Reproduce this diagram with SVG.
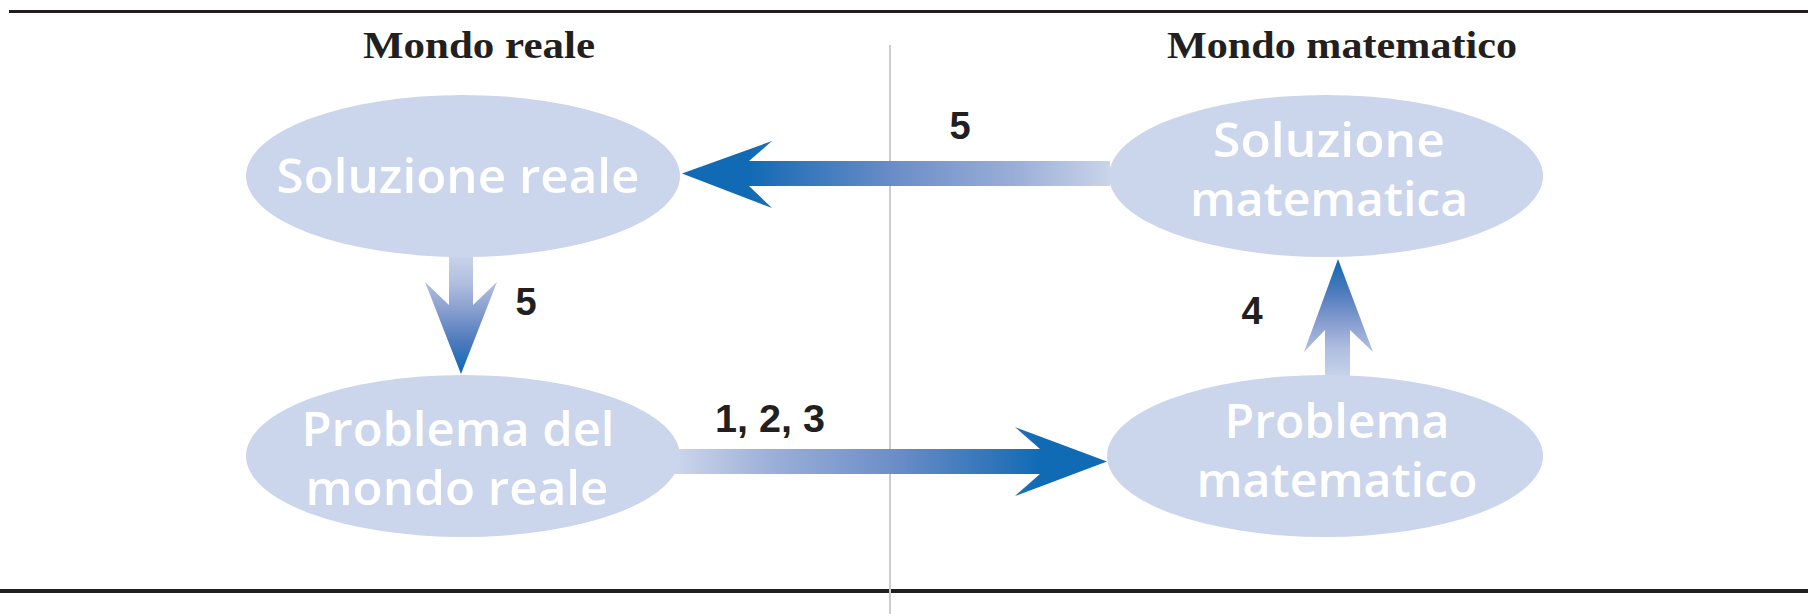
<svg xmlns="http://www.w3.org/2000/svg" width="1808" height="614" viewBox="0 0 1808 614">
  <style>
    .rule { fill: #231f20; }
    .divider { stroke: #cccccc; stroke-width: 2; }
    .heading { font-family: "Liberation Serif", "Times New Roman", serif; font-weight: bold; font-size: 37px; fill: #231f20; text-anchor: middle; }
    .node { fill: #cbd5eb; }
    .node-label { font-family: "Open Sans", "Liberation Sans", sans-serif; font-weight: 600; font-size: 47px; fill: #ffffff; text-anchor: middle; }
    .step { font-family: "Liberation Sans", Arial, sans-serif; font-weight: bold; font-size: 38px; fill: #231f20; text-anchor: middle; }
  </style>
  <defs>
    <linearGradient id="gradLeft" gradientUnits="userSpaceOnUse" x1="1110" y1="0" x2="749" y2="0">
      <stop offset="0" stop-color="#cad4ea"/>
      <stop offset="0.25" stop-color="#9cb0d8"/>
      <stop offset="0.6" stop-color="#6b8dc7"/>
      <stop offset="0.9" stop-color="#2a72b8"/>
      <stop offset="1" stop-color="#106bb4"/>
    </linearGradient>
    <linearGradient id="gradRight" gradientUnits="userSpaceOnUse" x1="680" y1="0" x2="1040" y2="0">
      <stop offset="0" stop-color="#cad4ea"/>
      <stop offset="0.25" stop-color="#9cb0d8"/>
      <stop offset="0.6" stop-color="#6b8dc7"/>
      <stop offset="0.9" stop-color="#2a72b8"/>
      <stop offset="1" stop-color="#106bb4"/>
    </linearGradient>
    <linearGradient id="gradDown" gradientUnits="userSpaceOnUse" x1="0" y1="255" x2="0" y2="374">
      <stop offset="0" stop-color="#cad4ea"/>
      <stop offset="0.25" stop-color="#aebde0"/>
      <stop offset="0.45" stop-color="#8aa0d0"/>
      <stop offset="0.72" stop-color="#4f7bbd"/>
      <stop offset="1" stop-color="#0b68b3"/>
    </linearGradient>
    <linearGradient id="gradUp" gradientUnits="userSpaceOnUse" x1="0" y1="378" x2="0" y2="259">
      <stop offset="0" stop-color="#cad4ea"/>
      <stop offset="0.25" stop-color="#aebde0"/>
      <stop offset="0.45" stop-color="#8aa0d0"/>
      <stop offset="0.72" stop-color="#4f7bbd"/>
      <stop offset="1" stop-color="#0b68b3"/>
    </linearGradient>
  </defs>

  <!-- frame rules and column divider -->
  <rect class="rule" x="9" y="10" width="1799" height="3"/>
  <rect class="rule" x="0" y="589" width="1808" height="4"/>
  <line class="divider" x1="890" y1="45" x2="890" y2="614"/>

  <!-- column headings -->
  <text class="heading" x="479" y="58" textLength="232" lengthAdjust="spacingAndGlyphs">Mondo reale</text>
  <text class="heading" x="1342" y="58" textLength="350" lengthAdjust="spacingAndGlyphs">Mondo matematico</text>

  <!-- connectors -->
  <g id="connectors">
    <path d="M1110,161 L749,161 L772,141 L682,173.5 L772,208 L749,186 L1110,186 Z" fill="url(#gradLeft)"/>
    <path d="M670,449 L1040,449 L1015,427 L1107,461.5 L1015,496 L1040,474 L670,474 Z" fill="url(#gradRight)"/>
    <path d="M449,250 L449,305 L425,282 L461,374 L497,282 L473,305 L473,250 Z" fill="url(#gradDown)"/>
    <path d="M1325,382 L1325,330 L1304,352 L1338,259 L1373,352 L1350,330 L1350,382 Z" fill="url(#gradUp)"/>
    <text class="step" x="960" y="139">5</text>
    <text class="step" x="526" y="315">5</text>
    <text class="step" x="1252" y="324">4</text>
    <text class="step" x="770" y="432" textLength="110" lengthAdjust="spacingAndGlyphs">1, 2, 3</text>
  </g>

  <!-- nodes -->
  <g id="soluzione-reale">
    <ellipse class="node" cx="463" cy="176" rx="217" ry="81"/>
    <text class="node-label" x="458" y="193" textLength="363" lengthAdjust="spacingAndGlyphs">Soluzione reale</text>
  </g>
  <g id="problema-mondo-reale">
    <ellipse class="node" cx="463" cy="456" rx="217" ry="81"/>
    <text class="node-label" x="458" y="446" textLength="313" lengthAdjust="spacingAndGlyphs">Problema del</text>
    <text class="node-label" x="457" y="505" textLength="303" lengthAdjust="spacingAndGlyphs">mondo reale</text>
  </g>
  <g id="soluzione-matematica">
    <ellipse class="node" cx="1326" cy="176" rx="217" ry="81"/>
    <text class="node-label" x="1329" y="157" textLength="232" lengthAdjust="spacingAndGlyphs">Soluzione</text>
    <text class="node-label" x="1329" y="216" textLength="278" lengthAdjust="spacingAndGlyphs">matematica</text>
  </g>
  <g id="problema-matematico">
    <ellipse class="node" cx="1325" cy="456" rx="218" ry="81"/>
    <text class="node-label" x="1337" y="438" textLength="225" lengthAdjust="spacingAndGlyphs">Problema</text>
    <text class="node-label" x="1337" y="497" textLength="281" lengthAdjust="spacingAndGlyphs">matematico</text>
  </g>
</svg>
